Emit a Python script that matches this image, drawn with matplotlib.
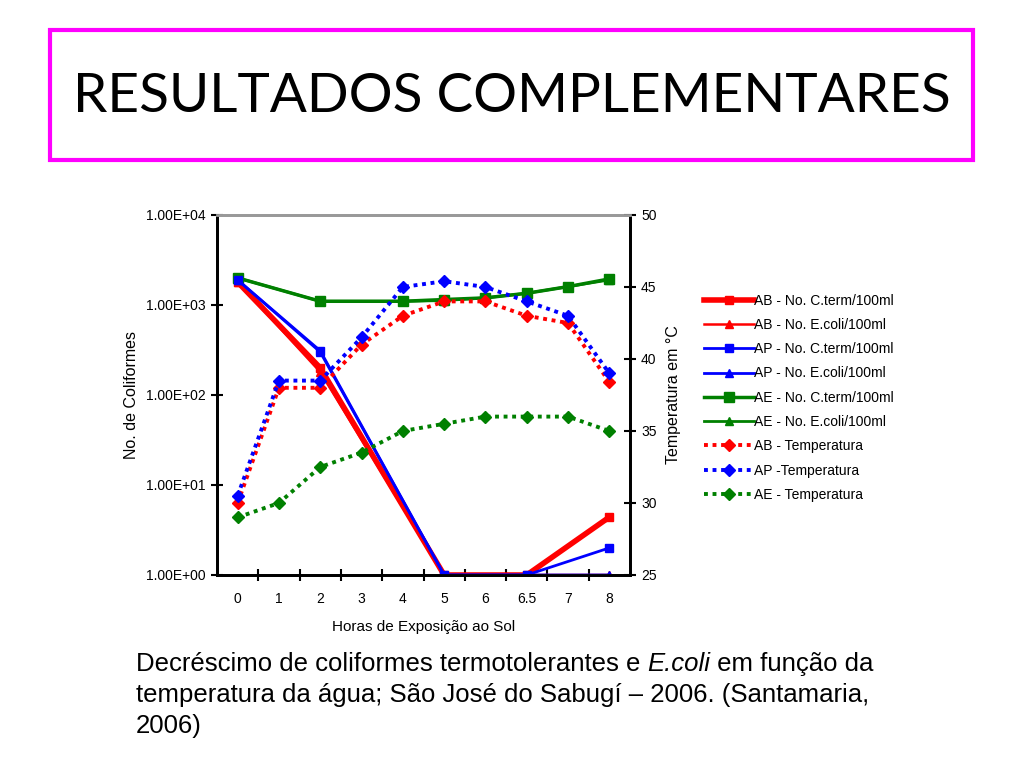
import matplotlib

matplotlib.use("Agg")
import matplotlib.pyplot as plt
import numpy as np
from matplotlib.patches import Rectangle
from matplotlib.ticker import FixedLocator, NullFormatter, FuncFormatter

plt.rcParams["font.family"] = ["Liberation Sans", "DejaVu Sans"]

# horas de exposição (eixo categórico)
horas = ["0", "1", "2", "3", "4", "5", "6", "6.5", "7", "8"]

# coliformes (NaN = sem medição)
nan = np.nan
ab_cterm = [1800, nan, 200, nan, nan, 1, nan, 1, nan, 4.4]
ab_ecoli = [1800, nan, 180, nan, nan, 1, nan, 1, nan, 1]
ap_cterm = [1900, nan, 310, nan, nan, 1, nan, 1, nan, 2]
ap_ecoli = [1900, nan, 300, nan, nan, 1, nan, 1, nan, 1]
ae_cterm = [2000, nan, 1100, nan, 1100, 1150, 1200, 1350, 1600, 1950]
ae_ecoli = [2000, nan, 1100, nan, 1100, 1120, 1200, 1350, 1600, 1900]

# temperaturas
ab_temp = [30.0, 38.0, 38.0, 41.0, 43.0, 44.0, 44.0, 43.0, 42.5, 38.4]
ap_temp = [30.5, 38.5, 38.5, 41.5, 45.0, 45.4, 45.0, 44.0, 43.0, 39.0]
ae_temp = [29.0, 30.0, 32.5, 33.5, 35.0, 35.5, 36.0, 36.0, 36.0, 35.0]

RED = "#ff0000"
BLUE = "#0000ff"
GREEN = "#008000"
W, H = 1024, 768

fig = plt.figure(figsize=(W / 100, H / 100), dpi=100)

# caixa do título
fig.patches.append(Rectangle((50 / W, 1 - 160 / H), 923 / W, 130 / H,
                             transform=fig.transFigure, fill=False,
                             edgecolor="#ff00ff", linewidth=3))
fig.text(512 / W, 1 - 96 / H, "RESULTADOS COMPLEMENTARES",
         ha="center", va="center", fontsize=39.5, family=["Lato", "DejaVu Sans"])

ax = fig.add_axes([217 / W, 1 - 575 / H, 413 / W, 360 / H])
ax2 = ax.twinx()

x = np.arange(len(horas))


def plot_valid(axis, vals, **kw):
    v = np.array(vals, dtype=float)
    m = ~np.isnan(v)
    return axis.plot(x[m], v[m], **kw)[0]


handles = []
handles.append(plot_valid(ax, ab_cterm, color=RED, lw=4, marker="s", ms=6,
                          label="AB - No. C.term/100ml", zorder=3))
handles.append(plot_valid(ax, ab_ecoli, color=RED, lw=1.8, marker="^", ms=6,
                          label="AB - No. E.coli/100ml", zorder=3))
handles.append(plot_valid(ax, ap_cterm, color=BLUE, lw=2, marker="s", ms=6,
                          label="AP - No. C.term/100ml", zorder=4))
handles.append(plot_valid(ax, ap_ecoli, color=BLUE, lw=2, marker="^", ms=6,
                          label="AP - No. E.coli/100ml", zorder=4))
handles.append(plot_valid(ax, ae_cterm, color=GREEN, lw=2.5, marker="s", ms=7,
                          label="AE - No. C.term/100ml", zorder=3))
handles.append(plot_valid(ax, ae_ecoli, color=GREEN, lw=2, marker="^", ms=6,
                          label="AE - No. E.coli/100ml", zorder=3))

dots = (0, (1, 1.2))
handles.append(ax2.plot(x, ab_temp, color=RED, lw=2.8, ls=dots, marker="D", ms=6,
                        label="AB - Temperatura")[0])
handles.append(ax2.plot(x, ap_temp, color=BLUE, lw=2.8, ls=dots, marker="D", ms=6,
                        label="AP -Temperatura")[0])
handles.append(ax2.plot(x, ae_temp, color=GREEN, lw=2.8, ls=dots, marker="D", ms=6,
                        label="AE - Temperatura")[0])

ax.set_yscale("log")
ax.set_ylim(1, 1e4)
ax.set_xlim(-0.5, len(horas) - 0.5)
ax.yaxis.set_major_locator(FixedLocator([1, 10, 100, 1000, 10000]))
ax.yaxis.set_minor_formatter(NullFormatter())
ax.yaxis.set_minor_locator(FixedLocator([]))
ax.yaxis.set_major_formatter(FuncFormatter(lambda v, p: f"{v:.2E}"))
ax.set_xticks(np.arange(len(horas) - 1) + 0.5)
ax.set_xticklabels([])
ax.set_xticks(x, minor=True)
ax.set_xticklabels(horas, minor=True)
ax.tick_params(axis="x", which="minor", length=0, pad=12, labelsize=10)
ax.tick_params(axis="x", which="major", direction="inout", length=8, width=1.5)
ax.tick_params(axis="y", direction="inout", length=8, width=1.5, labelsize=10, pad=4)

ax2.set_ylim(25, 50)
ax2.set_yticks([25, 30, 35, 40, 45, 50])
ax2.tick_params(axis="y", direction="inout", length=8, width=1.5, labelsize=10, pad=4)

for a in (ax, ax2):
    a.spines["top"].set_color("#999999")
    a.spines["top"].set_linewidth(2)
    for s in ("left", "right", "bottom"):
        a.spines[s].set_linewidth(2)
    a.patch.set_visible(False)

ax.set_xlabel("Horas de Exposição ao Sol", fontsize=11, labelpad=10)
ax.set_ylabel("No. de Coliformes", fontsize=11.5, labelpad=5)
ax2.set_ylabel("Temperatura em °C", fontsize=11.5, labelpad=7)

fig.legend(handles=handles, loc="upper left", bbox_to_anchor=(698 / W, 1 - 288 / H),
           frameon=False, fontsize=10, handlelength=3.6, handletextpad=0.05,
           labelspacing=0.74, borderaxespad=0)

# legenda do gráfico (E.coli em itálico)
cap = dict(fontsize=18.5, family=["Liberation Sans Narrow", "Liberation Sans"],
           va="baseline", ha="left")
r = fig.canvas.get_renderer()
y1 = 1 - 671 / H
t1 = fig.text(136 / W, y1, "Decréscimo de coliformes termotolerantes e ", **cap)
x1 = t1.get_window_extent(r).x1 / W
t2 = fig.text(x1, y1, "E.coli", style="italic", **cap)
x2 = t2.get_window_extent(r).x1 / W
fig.text(x2, y1, " em função da", **cap)
fig.text(136 / W, 1 - 702 / H, "temperatura da água; São José do Sabugí – 2006. (Santamaria,", **cap)
fig.text(136 / W, 1 - 733 / H, "2006)", **cap)

fig.savefig("out.png", dpi=100)
